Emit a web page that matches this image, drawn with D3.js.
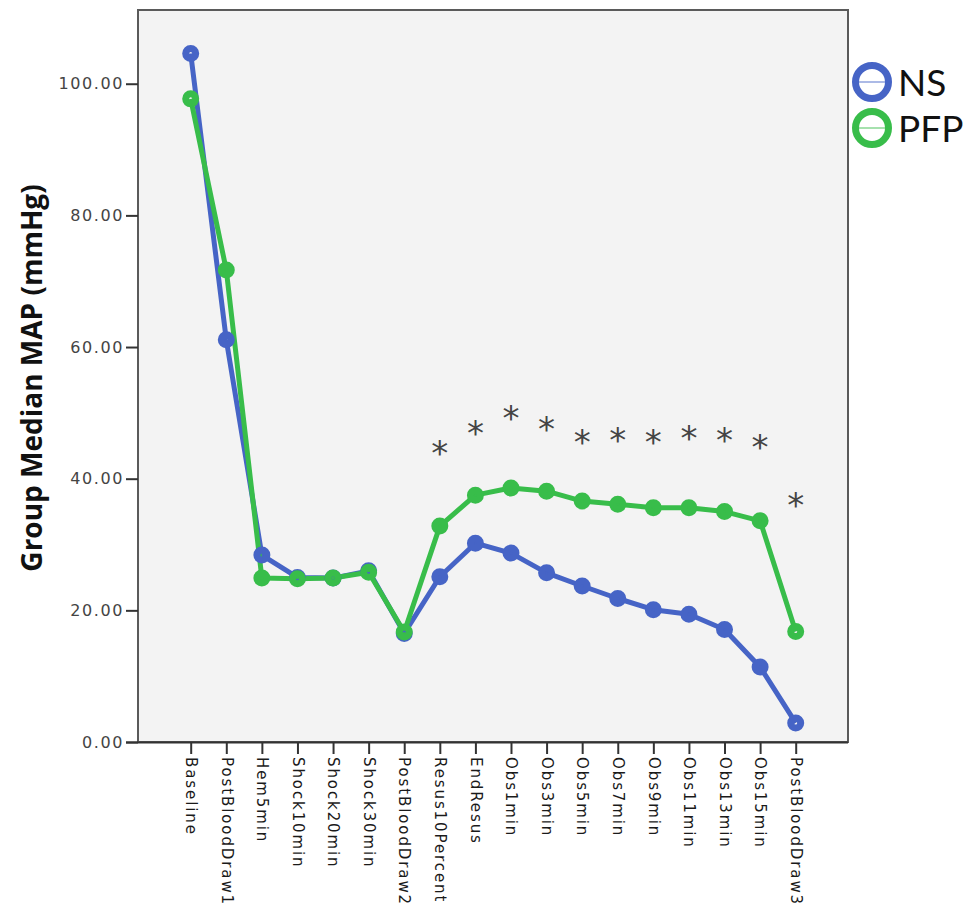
<!DOCTYPE html>
<html>
<head>
<meta charset="utf-8">
<script src="https://cdn.jsdelivr.net/npm/d3@7/dist/d3.min.js"></script>
<style>
  html, body { margin: 0; padding: 0; background: #ffffff; }
  svg { display: block; }
</style>
</head>
<body>
<svg id="chart" width="971" height="914"></svg>
<script>
// Time points of the protocol
const categories = [
  "Baseline", "PostBloodDraw1", "Hem5min", "Shock10min", "Shock20min", "Shock30min",
  "PostBloodDraw2", "Resus10Percent", "EndResus", "Obs1min", "Obs3min", "Obs5min",
  "Obs7min", "Obs9min", "Obs11min", "Obs13min", "Obs15min", "PostBloodDraw3"
];

// Group median MAP (mmHg)
const nsValues  = [104.6, 61.1, 28.4, 25.0, 24.9, 26.0, 16.5, 25.1, 30.2, 28.7, 25.7, 23.7, 21.8, 20.1, 19.4, 17.1, 11.4, 2.9];
const pfpValues = [97.7, 71.7, 24.9, 24.8, 24.9, 25.8, 16.7, 32.8, 37.5, 38.6, 38.1, 36.6, 36.1, 35.6, 35.6, 35.0, 33.6, 16.8];

// Significance markers: category and height (mmHg) of each asterisk
const starCategories = ["Resus10Percent", "EndResus", "Obs1min", "Obs3min", "Obs5min", "Obs7min",
                        "Obs9min", "Obs11min", "Obs13min", "Obs15min", "PostBloodDraw3"];
const starValues = [44.5, 47.6, 49.8, 48.2, 46.2, 46.5, 46.2, 46.8, 46.5, 45.4, 36.6];

const yTicks = [0, 20, 40, 60, 80, 100];
const seriesNames = ["NS", "PFP"];
const seriesColors = ["#4664c6", "#38bd4a"];

const svg = d3.select("#chart");

const plot = { left: 138, right: 848, top: 10, bottom: 742 };

const x = d3.scalePoint()
  .domain(categories)
  .range([190.7, 795.7]);

const y = d3.scaleLinear()
  .domain([0, 111.2])
  .range([plot.bottom, plot.top]);

// Plot background and frame
svg.append("rect")
  .attr("x", plot.left).attr("y", plot.top)
  .attr("width", plot.right - plot.left).attr("height", plot.bottom - plot.top)
  .attr("fill", "#f3f3f3")
  .attr("stroke", "#5a5a5a")
  .attr("stroke-width", 2);

// Y axis
const yAxis = svg.append("g")
  .attr("transform", `translate(${plot.left},0)`)
  .call(d3.axisLeft(y).tickValues(yTicks).tickFormat(d3.format(".2f")).tickSize(12).tickPadding(2));
yAxis.select(".domain").remove();
yAxis.selectAll(".tick line").attr("stroke", "#333").attr("stroke-width", 2);
yAxis.selectAll(".tick text")
  .attr("fill", "#444")
  .style("font-family", "'DejaVu Sans', sans-serif")
  .style("font-size", "16px")
  .style("letter-spacing", "1.6px");

// X axis
const xAxis = svg.append("g")
  .attr("transform", `translate(0,${plot.bottom})`)
  .call(d3.axisBottom(x).tickSize(12).tickPadding(0));
xAxis.select(".domain").attr("d", `M${plot.left - 12},0.5H${plot.right}`).attr("stroke", "#333").attr("stroke-width", 2);
xAxis.selectAll(".tick line").attr("stroke", "#333").attr("stroke-width", 2);
xAxis.selectAll(".tick text")
  .attr("fill", "#1a1a1a")
  .attr("transform", "rotate(90)")
  .attr("x", 15).attr("y", 0).attr("dy", "0.35em")
  .attr("text-anchor", "start")
  .style("font-family", "'DejaVu Sans', sans-serif")
  .style("font-size", "15px")
  .style("letter-spacing", "1.9px");

// Y axis title
svg.append("text")
  .attr("transform", `translate(42,378) rotate(-90)`)
  .attr("text-anchor", "middle")
  .style("font-family", "'Open Sans', sans-serif")
  .style("font-weight", "bold")
  .style("font-size", "28px")
  .attr("fill", "#111")
  .text("Group Median MAP (mmHg)");

// Series lines
const series = [nsValues, pfpValues];
const line = d3.line()
  .x((d, i) => x(categories[i]))
  .y(d => y(d));

series.forEach((vals, s) => {
  svg.append("path")
    .datum(vals)
    .attr("d", line)
    .attr("fill", "none")
    .attr("stroke", seriesColors[s])
    .attr("stroke-width", 5)
    .attr("stroke-linejoin", "round");
});

// Markers
series.forEach((vals, s) => {
  svg.append("g").selectAll("circle")
    .data(vals)
    .join("circle")
    .attr("cx", (d, i) => x(categories[i]))
    .attr("cy", d => y(d))
    .attr("r", 5)
    .attr("fill", "none")
    .attr("stroke", seriesColors[s])
    .attr("stroke-width", 7);
});

// Asterisks
svg.append("g").selectAll("text")
  .data(starValues)
  .join("text")
  .attr("x", (d, i) => x(starCategories[i]))
  .attr("y", d => y(d) + 16)
  .attr("text-anchor", "middle")
  .style("font-family", "'DejaVu Sans', sans-serif")
  .style("font-size", "34px")
  .attr("fill", "#444")
  .text("*");

// Legend
const legend = svg.append("g");
seriesNames.forEach((name, i) => {
  const cy = 82 + i * 46;
  legend.append("circle")
    .attr("cx", 872).attr("cy", cy).attr("r", 16.5)
    .attr("fill", "#ffffff")
    .attr("stroke", seriesColors[i])
    .attr("stroke-width", 7);
  legend.append("line")
    .attr("x1", 857).attr("x2", 887).attr("y1", cy).attr("y2", cy)
    .attr("stroke", seriesColors[i])
    .attr("stroke-opacity", 0.6)
    .attr("stroke-width", 1.5);
  legend.append("text")
    .attr("x", 898).attr("y", cy + 14)
    .style("font-family", "Lato, sans-serif")
    .style("font-size", "37px")
    .attr("fill", "#111")
    .text(name);
});
</script>
</body>
</html>
